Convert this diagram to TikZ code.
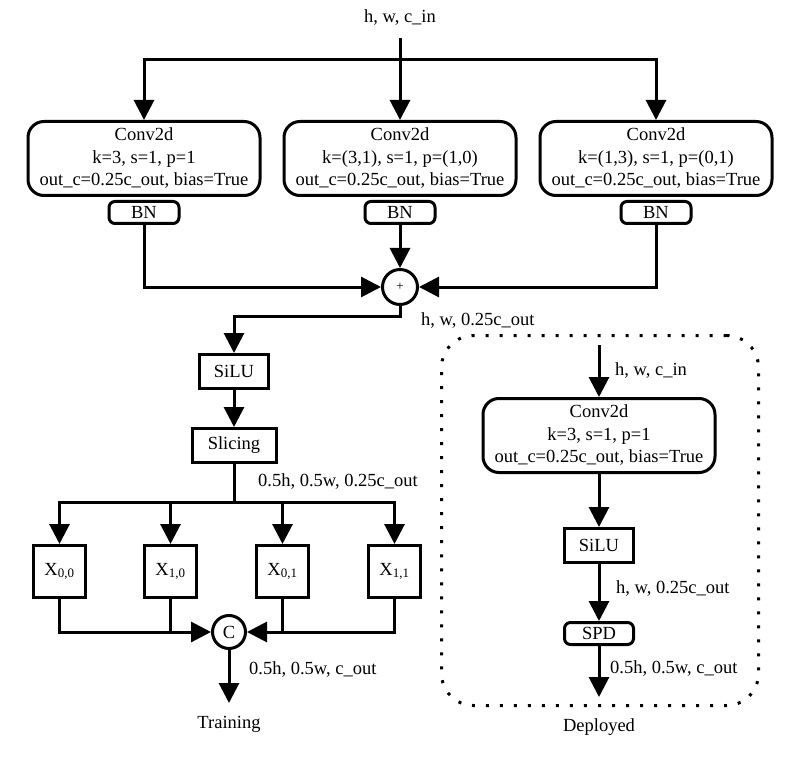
\documentclass[tikz,border=0pt]{standalone}
\usepackage{fontspec}
\setmainfont{Liberation Serif}
\usetikzlibrary{arrows.meta, positioning}
\tikzset{
    conv/.style={rectangle, draw, line width=3pt, rounded corners=16pt, minimum width=232pt, minimum height=74pt, align=center, inner sep=0pt},
    bn/.style={rectangle, draw, line width=3pt, rounded corners=6pt, minimum width=70pt, minimum height=22pt, inner sep=0pt},
    act/.style={rectangle, draw, line width=3pt, minimum width=69pt, minimum height=34pt, inner sep=0pt},
    slice/.style={act, minimum width=84pt},
    part/.style={rectangle, draw, line width=3pt, minimum size=52pt, inner sep=0pt},
    op/.style={circle, draw, line width=3pt, inner sep=0pt},
    lbl/.style={inner sep=0pt},
    arrow/.style={-{Triangle[length=20pt, width=20pt]}, line width=3pt},
    line/.style={line width=3pt},
    frame/.style={rectangle, draw, line width=3pt, dash pattern=on 3pt off 11pt, rounded corners=32pt, minimum width=317pt, minimum height=370pt}
}

\begin{document}
\begin{tikzpicture}[x=1pt, y=1pt, font=\fontsize{18.5}{22.5}\selectfont]
    \useasboundingbox (0,0) rectangle (788,-757);

    % Training branch: three parallel convolutions
    \node[lbl] (in) at (400,-18) {h, w, c\_in};
    \node[conv] (conv2) at (400,-158.5) {Conv2d\\k=(3,1), s=1, p=(1,0)\\out\_c=0.25c\_out, bias=True};
    \node[conv, left=21pt of conv2] (conv1) {Conv2d\\k=3, s=1, p=1\\out\_c=0.25c\_out, bias=True};
    \node[conv, right=21pt of conv2] (conv3) {Conv2d\\k=(1,3), s=1, p=(0,1)\\out\_c=0.25c\_out, bias=True};

    \node[bn, below=3pt of conv1] (bn1) {BN};
    \node[bn, below=3pt of conv2] (bn2) {BN};
    \node[bn, below=3pt of conv3] (bn3) {BN};

    \node[op, minimum size=35pt, below=43pt of bn2] (sum) {\fontsize{13}{14}\selectfont +};
    \node[lbl, anchor=west] (d1) at (421,-321) {h, w, 0.25c\_out};

    \node[act] (silu1) at (234,-371.5) {SiLU};
    \node[slice, below=37pt of silu1] (slice) {Slicing};
    \node[lbl, anchor=west] (d2) at (258,-482) {0.5h, 0.5w, 0.25c\_out};

    \node[part] (x00) at (59.5,-571.5) {X\textsubscript{0,0}};
    \node[part, right=56pt of x00] (x10) {X\textsubscript{1,0}};
    \node[part, right=57pt of x10] (x01) {X\textsubscript{0,1}};
    \node[part, right=57pt of x01] (x11) {X\textsubscript{1,1}};

    \node[op, minimum size=33pt] (cat) at (229,-632) {C};
    \node[lbl, anchor=west] (d3) at (249,-670) {0.5h, 0.5w, c\_out};
    \coordinate (tout) at (229,-703);
    \node[lbl] (train) at (229,-724) {Training};

    \coordinate (split) at (400,-60);
    \draw[line] ([yshift=-12pt]in.south) -- (split);
    \draw[arrow] (split) -- (conv2);
    \draw[arrow] (split) -| (conv1);
    \draw[arrow] (split) -| (conv3);
    \draw[arrow] (bn1) |- (sum);
    \draw[arrow] (bn2) -- (sum);
    \draw[arrow] (bn3) |- (sum);
    \draw[arrow] (sum.south) -- ++(0,-10) -| (silu1);
    \draw[arrow] (silu1) -- (slice);
    \draw[arrow] (slice.south) -- ++(0,-38) -| (x00);
    \draw[arrow] (slice.south) -- ++(0,-38) -| (x10);
    \draw[arrow] (slice.south) -- ++(0,-38) -| (x01);
    \draw[arrow] (slice.south) -- ++(0,-38) -| (x11);
    \draw[arrow] (x00) |- (cat);
    \draw[line] (x10) -- (x10 |- cat);
    \draw[arrow] (x11) |- (cat);
    \draw[line] (x01) -- (x01 |- cat);
    \draw[arrow] (cat) -- (tout);

    % Deployed branch
    \node[frame] (box) at (600,-520.5) {};
    \coordinate (din) at (599,-345);
    \node[conv] (conv4) at (599,-435.5) {Conv2d\\k=3, s=1, p=1\\out\_c=0.25c\_out, bias=True};
    \node[lbl, anchor=west] (d4) at (615,-371) {h, w, c\_in};
    \node[act, below=53pt of conv4] (silu2) {SiLU};
    \node[bn, minimum width=69pt, below=57pt of silu2] (spd) {SPD};
    \node[lbl, anchor=west] (d5) at (616,-589) {h, w, 0.25c\_out};
    \coordinate (dout) at (599,-697);
    \node[lbl, anchor=west] (d6) at (610,-669) {0.5h, 0.5w, c\_out};
    \node[lbl] (dep) at (599,-727) {Deployed};

    \draw[arrow] (din) -- (conv4);
    \draw[arrow] (conv4) -- (silu2);
    \draw[arrow] (silu2) -- (spd);
    \draw[arrow] (spd) -- (dout);
\end{tikzpicture}
\end{document}
